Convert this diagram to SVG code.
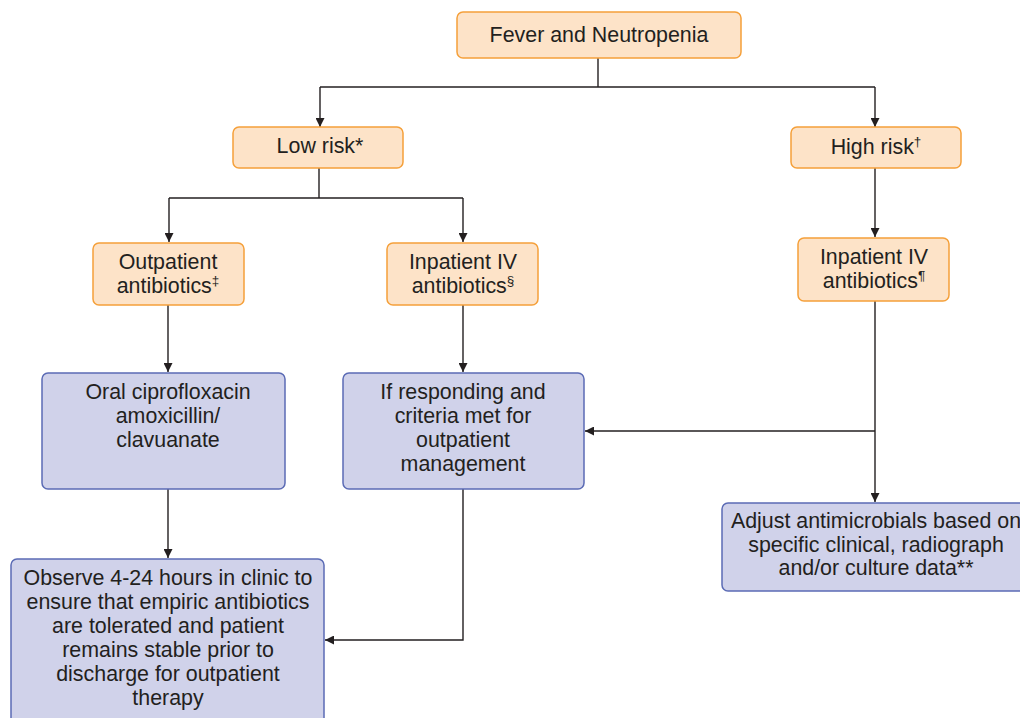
<svg xmlns="http://www.w3.org/2000/svg" width="1020" height="718" viewBox="0 0 1020 718">
  <style>
    .risk { fill: #fde3c8; stroke: #f5a03a; stroke-width: 1.5; }
    .step { fill: #d0d2ea; stroke: #5b6bb5; stroke-width: 1.5; }
    text { font-family: "Liberation Sans", Arial, sans-serif; font-size: 21.4px; fill: #231f20; text-anchor: middle; }
    .sup { font-size: 13.5px; }
    .wire { fill: none; stroke: #231f20; stroke-width: 1.4; }
  </style>
  <defs>
    <marker id="arrow" viewBox="0 0 10 10" refX="10" refY="5" markerWidth="9" markerHeight="9" markerUnits="userSpaceOnUse" orient="auto">
      <path d="M0,0 L10,5 L0,10 z" fill="#231f20"/>
    </marker>
  </defs>

  <rect width="1020" height="718" fill="#ffffff"/>

  <g id="connectors">
    <path class="wire" d="M598,58 V87"/>
    <path class="wire" d="M320,87 H875"/>
    <path class="wire" d="M320,87 V127" marker-end="url(#arrow)"/>
    <path class="wire" d="M875,87 V127" marker-end="url(#arrow)"/>
    <path class="wire" d="M319,168 V198"/>
    <path class="wire" d="M169,198 H463"/>
    <path class="wire" d="M169,198 V242" marker-end="url(#arrow)"/>
    <path class="wire" d="M463,198 V242" marker-end="url(#arrow)"/>
    <path class="wire" d="M875,168 V237" marker-end="url(#arrow)"/>
    <path class="wire" d="M168,305 V372" marker-end="url(#arrow)"/>
    <path class="wire" d="M463,305 V372" marker-end="url(#arrow)"/>
    <path class="wire" d="M875,301 V502" marker-end="url(#arrow)"/>
    <path class="wire" d="M875,431 H585" marker-end="url(#arrow)"/>
    <path class="wire" d="M168,489 V558" marker-end="url(#arrow)"/>
    <path class="wire" d="M463,489 V640 H325" marker-end="url(#arrow)"/>
  </g>

  <g id="fever-neutropenia">
    <rect class="risk" x="457" y="12" width="284" height="46" rx="6"/>
    <text x="599" y="42">Fever and Neutropenia</text>
  </g>

  <g id="low-risk">
    <rect class="risk" x="233" y="127" width="170" height="41" rx="6"/>
    <text x="320" y="153">Low risk*</text>
  </g>

  <g id="high-risk">
    <rect class="risk" x="791" y="127" width="170" height="41" rx="6"/>
    <text x="876" y="154">High risk<tspan class="sup" dy="-8">†</tspan></text>
  </g>

  <g id="outpatient-antibiotics">
    <rect class="risk" x="93" y="243" width="151" height="62" rx="6"/>
    <text x="168" y="269">Outpatient</text>
    <text x="168" y="293">antibiotics<tspan class="sup" dy="-8">‡</tspan></text>
  </g>

  <g id="inpatient-low">
    <rect class="risk" x="387" y="243" width="151" height="62" rx="6"/>
    <text x="463" y="269">Inpatient IV</text>
    <text x="463" y="293">antibiotics<tspan class="sup" dy="-8">§</tspan></text>
  </g>

  <g id="inpatient-high">
    <rect class="risk" x="798" y="238" width="151" height="63" rx="6"/>
    <text x="874" y="264">Inpatient IV</text>
    <text x="874" y="288">antibiotics<tspan class="sup" dy="-8">¶</tspan></text>
  </g>

  <g id="oral-regimen">
    <rect class="step" x="42" y="373" width="243" height="116" rx="6"/>
    <text x="168" y="399">Oral ciprofloxacin</text>
    <text x="168" y="423">amoxicillin/</text>
    <text x="168" y="447">clavuanate</text>
  </g>

  <g id="if-responding">
    <rect class="step" x="343" y="373" width="241" height="116" rx="6"/>
    <text x="463" y="399">If responding and</text>
    <text x="463" y="423">criteria met for</text>
    <text x="463" y="447">outpatient</text>
    <text x="463" y="471">management</text>
  </g>

  <g id="observe">
    <rect class="step" x="11" y="559" width="313" height="170" rx="6"/>
    <text x="168" y="585">Observe 4-24 hours in clinic to</text>
    <text x="168" y="609">ensure that empiric antibiotics</text>
    <text x="168" y="633">are tolerated and patient</text>
    <text x="168" y="657">remains stable prior to</text>
    <text x="168" y="681">discharge for outpatient</text>
    <text x="168" y="705">therapy</text>
  </g>

  <g id="adjust-antimicrobials">
    <rect class="step" x="722" y="503" width="310" height="88" rx="6"/>
    <text x="876" y="528">Adjust antimicrobials based on</text>
    <text x="876" y="552">specific clinical, radiograph</text>
    <text x="876" y="575">and/or culture data**</text>
  </g>
</svg>
